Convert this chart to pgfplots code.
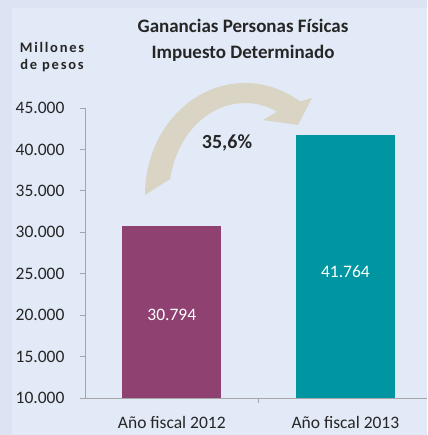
\documentclass[border=0pt]{standalone}
\usepackage{pgfplots}
\pgfplotsset{compat=1.18}
\usepackage{fontspec}
\setmainfont{Carlito}
\definecolor{outerbg}{HTML}{DCE3F2}
\definecolor{innerbg}{HTML}{E1EAF6}
\definecolor{barA}{HTML}{8F4171}
\definecolor{barB}{HTML}{0096A1}
\definecolor{arrowc}{HTML}{D9D4C3}
\definecolor{txt}{HTML}{262626}
\definecolor{axc}{HTML}{A6A6A6}
\begin{document}
\begin{tikzpicture}[x=1bp,y=1bp]
\useasboundingbox (-85,-37) rectangle (342,398);
\fill[outerbg] (-85,-37) rectangle (342,398);
\fill[innerbg] (-73,-37) rectangle (342,390);
% curved arrow (decoration)
\fill[arrowc] (60,203) arc[start angle=180, end angle=56.6, x radius=100, y radius=112]
  -- (227,300) -- (213,273) -- (178,278)
  -- ([shift={(160,203)}]65:76 and 92)
  arc[start angle=65, end angle=170, x radius=76, y radius=92] -- cycle;
\begin{axis}[
  at={(0,0)}, anchor=south west,
  scale only axis, width=342bp, height=290bp,
  xmin=-0.5, xmax=1.47, ymin=10000, ymax=45000,
  axis x line*=bottom, axis y line*=left,
  axis line style={draw=axc, line width=0.8pt},
  ybar, bar width=99bp,
  ytick={10000,15000,...,45000},
  scaled y ticks=false,
  /pgf/number format/fixed,
  /pgf/number format/1000 sep={.},
  /pgf/number format/assume math mode=true,
  ticklabel style={font=\fontsize{17.5bp}{20bp}\selectfont, text=txt},
  yticklabel style={xshift=-12bp},
  tick align=outside, major tick length=5bp,
  ytick style={draw=axc, line width=0.8pt},
  xtick={0,1}, xticklabels={Año fiscal 2012, Año fiscal 2013},
  xtick style={draw=none},
  xticklabel style={yshift=-10bp},
  extra x ticks={0.5}, extra x tick labels={},
  extra x tick style={xtick style={draw=axc, line width=0.8pt}, major tick length=5bp},
  ytick pos=left, xtick pos=bottom,
  clip=false,
]
\addplot[fill=barA, draw=none, bar shift=0pt] coordinates {(0,30794)};
\addplot[fill=barB, draw=none, bar shift=0pt] coordinates {(1,41764)};
\node[text=white, font=\fontsize{17.5bp}{20bp}\selectfont] at (axis cs:0,20000) {30.794};
\node[text=white, font=\fontsize{17.5bp}{20bp}\selectfont] at (axis cs:1,25300) {41.764};
\end{axis}
\node[font=\bfseries\fontsize{20bp}{24bp}\selectfont, text=txt] at (142,255) {35,6\%};
\node[anchor=base, font=\bfseries\fontsize{19bp}{22bp}\selectfont, text=txt] at (158,365) {Ganancias Personas Físicas};
\node[anchor=base, font=\bfseries\fontsize{19bp}{22bp}\selectfont, text=txt] at (158,339) {Impuesto Determinado};
\node[anchor=base, font=\bfseries\fontsize{14.5bp}{17bp}\selectfont\addfontfeature{LetterSpace=12}, text=txt] at (-33,345) {Millones};
\node[anchor=base, font=\bfseries\fontsize{14.5bp}{17bp}\selectfont\addfontfeature{LetterSpace=12}, text=txt] at (-33,328) {de pesos};
\end{tikzpicture}
\end{document}
